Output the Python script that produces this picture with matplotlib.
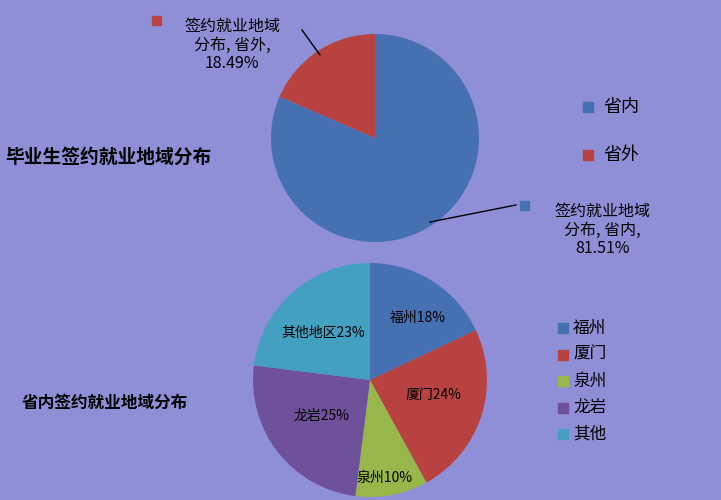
import matplotlib
matplotlib.use("Agg")
import matplotlib.pyplot as plt
from matplotlib.patches import Rectangle

plt.rcParams['font.family'] = ['Noto Sans CJK SC', 'DejaVu Sans']

top_labels = ['省内', '省外']
top_values = [81.51, 18.49]
bot_labels = ['福州', '厦门', '泉州', '龙岩', '其他']
bot_values = [18, 24, 10, 25, 23]
bot_slice_text = ['福州18%', '厦门24%', '泉州10%', '龙岩25%', '其他地区23%']

BG = '#8F8FD8'
top_colors = ['#4570B2', '#B8423F']
bot_colors = ['#4570B2', '#B8423F', '#98B74A', '#6F509A', '#43A0C1']

fig = plt.figure(figsize=(7.21, 5.0), dpi=100, facecolor=BG)
ax = fig.add_axes([0, 0, 1, 1])
ax.set_xlim(0, 721); ax.set_ylim(0, 500)
ax.set_facecolor(BG); ax.axis('off')
Y = lambda y: 500 - y

ax.pie(top_values, colors=top_colors, startangle=90, counterclock=False,
       center=(375, Y(138)), radius=104, frame=True)
wedges, _ = ax.pie(bot_values, colors=bot_colors, startangle=90, counterclock=False,
       center=(370, Y(380)), radius=117, frame=True)
ax.set_xlim(0, 721); ax.set_ylim(0, 500); ax.set_aspect('auto'); ax.axis('off')

# top data labels
ax.add_patch(Rectangle((152, Y(25)), 9, 9, color=top_colors[1]))
ax.text(232, Y(45), '签约就业地域\n分布, 省外,\n18.49%', ha='center', va='center',
        fontsize=11.5, linespacing=1.15, color='black')
ax.plot([302, 320], [Y(30), Y(55)], color='black', lw=1)
ax.add_patch(Rectangle((520, Y(210)), 9, 9, color=top_colors[0]))
ax.text(602, Y(230), '签约就业地域\n分布, 省内,\n81.51%', ha='center', va='center',
        fontsize=11.5, linespacing=1.15, color='black')
ax.plot([430, 516], [Y(222), Y(205)], color='black', lw=1)

# top legend
for i, (lab, c) in enumerate(zip(top_labels, top_colors)):
    yy = 107 + 48 * i
    ax.add_patch(Rectangle((583, Y(yy) - 5), 10, 10, color=c))
    ax.text(603, Y(yy), lab, va='center', fontsize=13)

ax.text(5, Y(157), '毕业生签约就业地域分布', va='center', fontsize=13.5, fontweight='bold')
ax.text(22, Y(403), '省内签约就业地域分布', va='center', fontsize=12, fontweight='bold')

# slice labels
pos = [(418, 318), (433, 395), (385, 478), (322, 416), (323, 333)]
for t, (x, y) in zip(bot_slice_text, pos):
    ax.text(x, Y(y), t, ha='center', va='center', fontsize=10)

# bottom legend
for i, (lab, c) in enumerate(zip(bot_labels, bot_colors)):
    yy = 328 + 26.5 * i
    ax.add_patch(Rectangle((558, Y(yy) - 5), 10, 10, color=c))
    ax.text(573, Y(yy), lab, va='center', fontsize=12)

fig.savefig('out.png', dpi=100, facecolor=BG)
